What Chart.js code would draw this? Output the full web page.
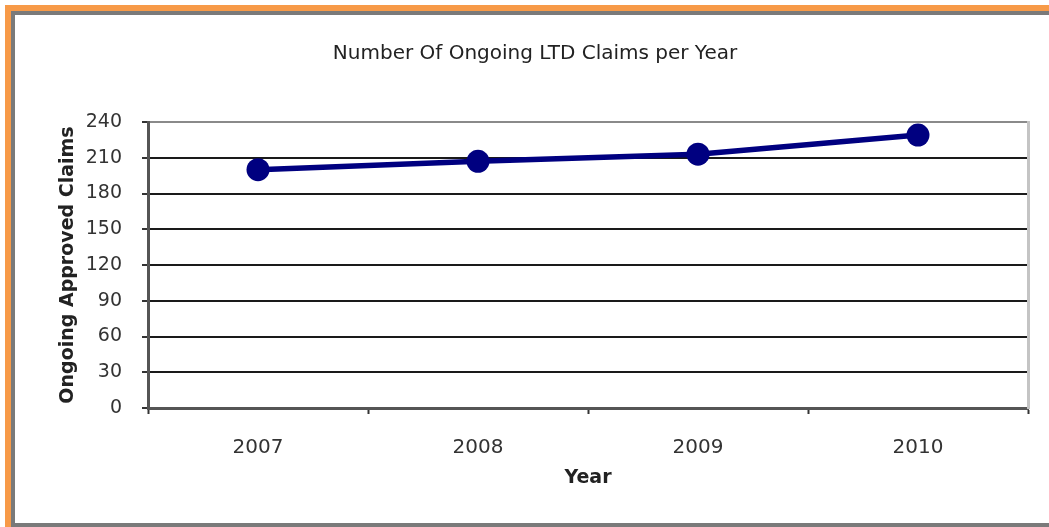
<!DOCTYPE html>
<html>
<head>
<meta charset="utf-8">
<title>Number Of Ongoing LTD Claims per Year</title>
<script src="https://cdn.jsdelivr.net/npm/chart.js@4"></script>
<style>
    html, body { margin: 0; padding: 0; background: #ffffff; }
    #wrap { position: relative; width: 1049px; height: 527px; }
</style>
</head>
<body>
<div id="wrap"><canvas id="claimsChart" width="1049" height="527"></canvas></div>
<script>
// Ongoing approved LTD claims, one value per year
const years = ['2007', '2008', '2009', '2010'];
const ongoingClaims = [200, 207, 213, 229];
const yTicks = [0, 30, 60, 90, 120, 150, 180, 210, 240];

const LINE_COLOR = '#000080';
const FONT = 'DejaVu Sans';

// Orange/gray picture frame behind the whole chart
const framePlugin = {
    id: 'frame',
    beforeDraw(chart) {
        const ctx = chart.ctx;
        const w = chart.width, h = chart.height;
        ctx.save();
        ctx.fillStyle = '#ffffff';
        ctx.fillRect(0, 0, w, h);
        ctx.fillStyle = '#f79a48';
        ctx.fillRect(5, 5, w - 5, 6);
        ctx.fillRect(5, 5, 6, h - 5);
        ctx.fillStyle = '#7a7a7a';
        ctx.fillRect(11, 11, w - 11, 4);
        ctx.fillRect(11, 11, 4, h - 11);
        ctx.fillRect(13, h - 4, w - 13, 4);
        ctx.restore();
    }
};

const ctx = document.getElementById('claimsChart').getContext('2d');

new Chart(ctx, {
    type: 'line',
    data: {
        labels: years,
        datasets: [{
            label: 'Ongoing Approved Claims',
            data: ongoingClaims,
            borderColor: LINE_COLOR,
            backgroundColor: LINE_COLOR,
            borderWidth: 5.5,
            pointRadius: 11.5,
            pointBorderWidth: 0,
            pointBackgroundColor: LINE_COLOR,
            tension: 0,
            yAxisID: 'y'
        }]
    },
    options: {
        responsive: false,
        animation: false,
        events: [],
        layout: {
            padding: { left: 21, right: 0, top: 0, bottom: 0 }
        },
        plugins: {
            legend: { display: false },
            tooltip: { enabled: false },
            title: {
                display: true,
                text: 'Number Of Ongoing LTD Claims per Year',
                color: '#222222',
                font: { family: FONT, size: 20, weight: 'normal' },
                padding: { top: 42, bottom: 56 }
            }
        },
        scales: {
            x: {
                offset: true,
                grid: {
                    offset: true,
                    drawOnChartArea: false,
                    drawTicks: true,
                    tickLength: 6,
                    tickWidth: 2,
                    tickColor: '#333333'
                },
                border: { display: true, color: '#555555', width: 3 },
                ticks: {
                    color: '#333333',
                    padding: 22,
                    maxRotation: 0,
                    font: { family: FONT, size: 20 }
                },
                title: {
                    display: true,
                    text: 'Year',
                    color: '#222222',
                    font: { family: FONT, size: 19, weight: 'bold' },
                    padding: { top: 0, bottom: 38 }
                },
                afterFit(scale) { scale.height = 119; }
            },
            y: {
                position: 'left',
                min: 0,
                max: 240,
                afterBuildTicks(scale) {
                    scale.ticks = yTicks.map(v => ({ value: v }));
                },
                grid: {
                    drawOnChartArea: true,
                    drawTicks: true,
                    tickLength: 6,
                    lineWidth: 2,
                    color: c => (c.tick && c.tick.value === 240 ? '#8a8a8a' : '#1a1a1a'),
                    tickColor: '#333333'
                },
                border: { display: true, color: '#555555', width: 3 },
                ticks: {
                    color: '#333333',
                    padding: 20,
                    font: { family: FONT, size: 19 }
                },
                title: {
                    display: true,
                    text: 'Ongoing Approved Claims',
                    color: '#222222',
                    font: { family: FONT, size: 19, weight: 'bold' },
                    padding: { top: 36, bottom: 0 }
                },
                afterFit(scale) { scale.width = 127; }
            },
            // right-hand edge of the plot box
            yRight: {
                position: 'right',
                display: true,
                min: 0,
                max: 240,
                grid: { drawOnChartArea: false, drawTicks: false },
                border: { display: true, color: '#c4c4c4', width: 3 },
                ticks: { display: false },
                afterFit(scale) { scale.width = 21; }
            }
        }
    },
    plugins: [framePlugin]
});
</script>
</body>
</html>
